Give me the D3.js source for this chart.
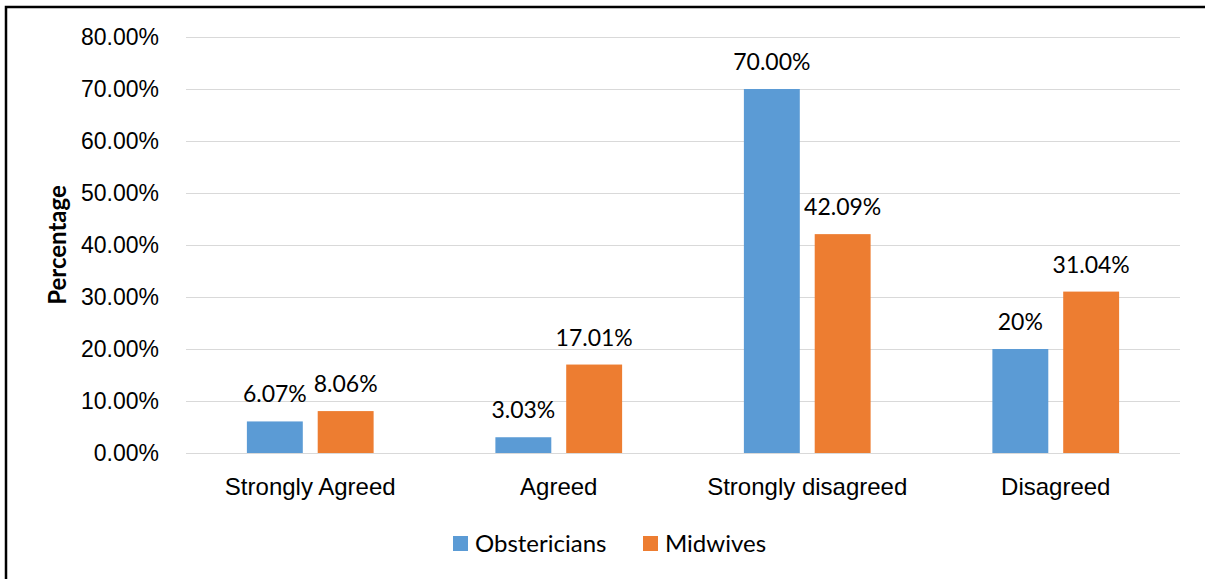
<!DOCTYPE html>
<html>
<head>
<meta charset="utf-8">
<script src="https://cdn.jsdelivr.net/npm/d3@7"></script>
<style>
  body { margin: 0; background: #fff; }
  svg { display: block; font-family: Lato, "Open Sans", sans-serif; }
</style>
</head>
<body>
<script>
var categories = ["Strongly Agreed", "Agreed", "Strongly disagreed", "Disagreed"];
var seriesNames = ["Obstericians", "Midwives"];
var obstetricians = [6.07, 3.03, 70.00, 20];
var midwives = [8.06, 17.01, 42.09, 31.04];
var obstetricianLabels = ["6.07%", "3.03%", "70.00%", "20%"];
var midwifeLabels = ["8.06%", "17.01%", "42.09%", "31.04%"];
var yTicks = [0, 10, 20, 30, 40, 50, 60, 70, 80];
var colors = ["#5B9BD5", "#ED7D31"];

var W = 1205, H = 579;
var margin = {top: 37, right: 25, bottom: 126, left: 186};
var plotW = W - margin.left - margin.right;
var plotH = H - margin.top - margin.bottom;

var svg = d3.select("body").append("svg")
    .attr("width", W)
    .attr("height", H);

// outer frame, runs off the right and bottom edges like the original
svg.append("rect")
    .attr("x", 6).attr("y", 7)
    .attr("width", W + 20).attr("height", H + 20)
    .attr("fill", "none")
    .attr("stroke", "#000")
    .attr("stroke-width", 2.5);

var g = svg.append("g")
    .attr("transform", "translate(" + margin.left + "," + margin.top + ")");

var x = d3.scaleBand()
    .domain(categories)
    .range([0, plotW]);

var y = d3.scaleLinear()
    .domain([0, 80])
    .range([plotH, 0]);

var barW = x.bandwidth() * 0.225;
var gap = x.bandwidth() * 0.06;

// y axis + gridlines
var yAxis = g.append("g")
    .call(d3.axisLeft(y).tickValues(yTicks)
        .tickSize(-plotW)
        .tickPadding(27)
        .tickFormat(d => d3.format(".2f")(d) + "%"));
yAxis.select(".domain").remove();
yAxis.selectAll(".tick line").attr("stroke", "#d9d9d9").attr("stroke-width", 1.2);
yAxis.selectAll(".tick text")
    .attr("font-size", 23)
    .attr("fill", "#000");

// x axis
var xAxis = g.append("g")
    .attr("transform", "translate(0," + plotH + ")")
    .call(d3.axisBottom(x).tickSize(0).tickPadding(25));
xAxis.select(".domain").remove();
xAxis.selectAll(".tick text")
    .attr("font-size", 24)
    .attr("fill", "#000");

var rows = categories.map(function(c, i) {
    return {cat: c, vals: [obstetricians[i], midwives[i]], labels: [obstetricianLabels[i], midwifeLabels[i]]};
});

var groups = g.selectAll(".cat")
    .data(rows)
    .enter().append("g")
    .attr("class", "cat")
    .attr("transform", d => "translate(" + (x(d.cat) + x.bandwidth() / 2) + ",0)");

function barX(j) {
    return j == 0 ? -gap / 2 - barW : gap / 2;
}

groups.selectAll("rect")
    .data(d => d.vals.map((v, j) => ({v: v, j: j})))
    .enter().append("rect")
    .attr("x", d => barX(d.j))
    .attr("y", d => y(d.v))
    .attr("width", barW)
    .attr("height", d => plotH - y(d.v))
    .attr("fill", d => colors[d.j]);

groups.selectAll("text.lbl")
    .data(d => d.labels.map((t, j) => ({t: t, v: d.vals[j], j: j})))
    .enter().append("text")
    .attr("class", "lbl")
    .attr("x", d => barX(d.j) + barW / 2)
    .attr("y", d => y(d.v) - 19)
    .attr("text-anchor", "middle")
    .attr("font-size", 23)
    .attr("fill", "#000")
    .text(d => d.t);

// y axis title
svg.append("text")
    .attr("transform", "translate(66," + (margin.top + plotH / 2) + ") rotate(-90)")
    .attr("text-anchor", "middle")
    .attr("font-size", 24)
    .attr("font-weight", "bold")
    .attr("fill", "#000")
    .text("Percentage");

// legend
var legendX = [453, 643];
var legend = svg.append("g");
seriesNames.forEach(function(name, i) {
    legend.append("rect")
        .attr("x", legendX[i]).attr("y", 536)
        .attr("width", 15).attr("height", 15)
        .attr("fill", colors[i]);
    legend.append("text")
        .attr("x", legendX[i] + 22).attr("y", 552)
        .attr("font-size", 24)
        .attr("fill", "#000")
        .text(name);
});
</script>
</body>
</html>
